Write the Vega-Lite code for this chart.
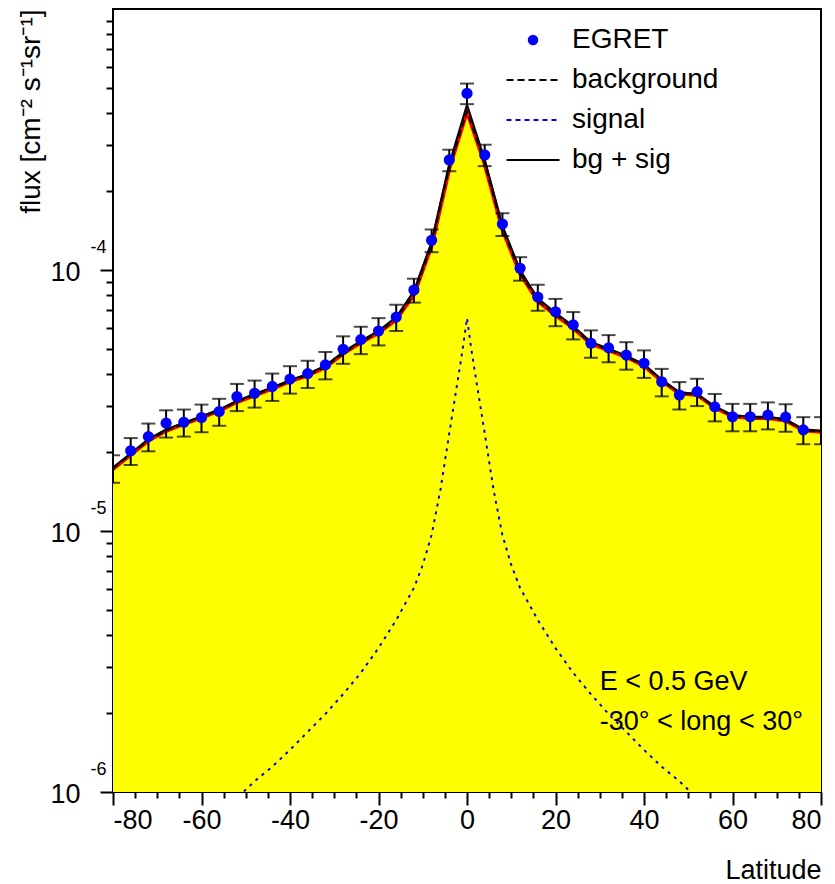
{
  "$schema": "https://vega.github.io/schema/vega-lite/v6.json",
  "width": 708,
  "height": 783,
  "autosize": {"type": "none"},
  "padding": {"left": 113, "top": 9, "right": 14, "bottom": 92},
  "background": "white",
  "config": {
    "font": "Liberation Sans",
    "view": {"stroke": "black", "strokeWidth": 2},
    "axis": {
      "grid": false,
      "domain": false,
      "tickColor": "black",
      "tickWidth": 2,
      "labelColor": "black",
      "titleColor": "black",
      "labelFont": "Liberation Sans",
      "titleFont": "Liberation Sans",
      "labelFontSize": 27,
      "titleFontSize": 27,
      "titleFontWeight": "normal"
    },
    "legend": {
      "title": null,
      "orient": "none",
      "legendX": 406,
      "legendY": 17,
      "padding": 0,
      "offset": 0,
      "symbolSize": 1156,
      "rowPadding": 12,
      "labelOffset": 25,
      "labelFont": "Liberation Sans",
      "labelFontSize": 28,
      "labelColor": "black",
      "labelLimit": 300
    }
  },
  "datasets": {
    "egret": [
      {"lat": -80, "flux": 1.74e-5, "err": 2.1e-6},
      {"lat": -76, "flux": 2.03e-5, "err": 2.4e-6},
      {"lat": -72, "flux": 2.30e-5, "err": 2.8e-6},
      {"lat": -68, "flux": 2.59e-5, "err": 3.1e-6},
      {"lat": -64, "flux": 2.61e-5, "err": 3.1e-6},
      {"lat": -60, "flux": 2.72e-5, "err": 3.3e-6},
      {"lat": -56, "flux": 2.87e-5, "err": 3.4e-6},
      {"lat": -52, "flux": 3.27e-5, "err": 3.9e-6},
      {"lat": -48, "flux": 3.37e-5, "err": 4.0e-6},
      {"lat": -44, "flux": 3.58e-5, "err": 4.3e-6},
      {"lat": -40, "flux": 3.82e-5, "err": 4.6e-6},
      {"lat": -36, "flux": 4.01e-5, "err": 4.8e-6},
      {"lat": -32, "flux": 4.33e-5, "err": 5.2e-6},
      {"lat": -28, "flux": 4.97e-5, "err": 6.0e-6},
      {"lat": -24, "flux": 5.41e-5, "err": 6.5e-6},
      {"lat": -20, "flux": 5.84e-5, "err": 7.0e-6},
      {"lat": -16, "flux": 6.60e-5, "err": 7.6e-6},
      {"lat": -12, "flux": 8.38e-5, "err": 8.8e-6},
      {"lat": -8, "flux": 1.30e-4, "err": 1.3e-5},
      {"lat": -4, "flux": 2.64e-4, "err": 2.5e-5},
      {"lat": 0, "flux": 4.75e-4, "err": 4.3e-5},
      {"lat": 4, "flux": 2.76e-4, "err": 2.6e-5},
      {"lat": 8, "flux": 1.50e-4, "err": 1.5e-5},
      {"lat": 12, "flux": 1.015e-4, "err": 1.05e-5},
      {"lat": 16, "flux": 7.88e-5, "err": 9.0e-6},
      {"lat": 20, "flux": 6.92e-5, "err": 8.3e-6},
      {"lat": 24, "flux": 6.16e-5, "err": 7.4e-6},
      {"lat": 28, "flux": 5.24e-5, "err": 6.3e-6},
      {"lat": 32, "flux": 5.03e-5, "err": 6.0e-6},
      {"lat": 36, "flux": 4.72e-5, "err": 5.7e-6},
      {"lat": 40, "flux": 4.39e-5, "err": 5.3e-6},
      {"lat": 44, "flux": 3.73e-5, "err": 4.5e-6},
      {"lat": 48, "flux": 3.32e-5, "err": 4.0e-6},
      {"lat": 52, "flux": 3.42e-5, "err": 4.1e-6},
      {"lat": 56, "flux": 2.99e-5, "err": 3.6e-6},
      {"lat": 60, "flux": 2.74e-5, "err": 3.3e-6},
      {"lat": 64, "flux": 2.74e-5, "err": 3.3e-6},
      {"lat": 68, "flux": 2.78e-5, "err": 3.3e-6},
      {"lat": 72, "flux": 2.73e-5, "err": 3.3e-6},
      {"lat": 76, "flux": 2.44e-5, "err": 2.9e-6},
      {"lat": 80, "flux": 2.44e-5, "err": 2.9e-6}
    ],
    "model": [
      {"lat": -80, "total": 1.75e-5, "bg": 1.73e-5},
      {"lat": -76, "total": 1.98e-5, "bg": 1.96e-5},
      {"lat": -72, "total": 2.25e-5, "bg": 2.22e-5},
      {"lat": -68, "total": 2.45e-5, "bg": 2.42e-5},
      {"lat": -64, "total": 2.60e-5, "bg": 2.57e-5},
      {"lat": -60, "total": 2.75e-5, "bg": 2.72e-5},
      {"lat": -56, "total": 2.92e-5, "bg": 2.89e-5},
      {"lat": -52, "total": 3.15e-5, "bg": 3.12e-5},
      {"lat": -48, "total": 3.35e-5, "bg": 3.31e-5},
      {"lat": -44, "total": 3.55e-5, "bg": 3.51e-5},
      {"lat": -40, "total": 3.78e-5, "bg": 3.74e-5},
      {"lat": -36, "total": 4.00e-5, "bg": 3.95e-5},
      {"lat": -32, "total": 4.30e-5, "bg": 4.24e-5},
      {"lat": -28, "total": 4.85e-5, "bg": 4.78e-5},
      {"lat": -24, "total": 5.35e-5, "bg": 5.27e-5},
      {"lat": -20, "total": 5.85e-5, "bg": 5.75e-5},
      {"lat": -16, "total": 6.60e-5, "bg": 6.45e-5},
      {"lat": -12, "total": 8.30e-5, "bg": 8.05e-5},
      {"lat": -8, "total": 1.28e-4, "bg": 1.24e-4},
      {"lat": -4, "total": 2.55e-4, "bg": 2.45e-4},
      {"lat": 0, "total": 4.30e-4, "bg": 4.05e-4},
      {"lat": 4, "total": 2.65e-4, "bg": 2.55e-4},
      {"lat": 8, "total": 1.48e-4, "bg": 1.43e-4},
      {"lat": 12, "total": 1.00e-4, "bg": 9.70e-5},
      {"lat": 16, "total": 7.80e-5, "bg": 7.60e-5},
      {"lat": 20, "total": 6.85e-5, "bg": 6.72e-5},
      {"lat": 24, "total": 6.10e-5, "bg": 6.00e-5},
      {"lat": 28, "total": 5.30e-5, "bg": 5.22e-5},
      {"lat": 32, "total": 5.00e-5, "bg": 4.93e-5},
      {"lat": 36, "total": 4.70e-5, "bg": 4.64e-5},
      {"lat": 40, "total": 4.35e-5, "bg": 4.30e-5},
      {"lat": 44, "total": 3.80e-5, "bg": 3.76e-5},
      {"lat": 48, "total": 3.40e-5, "bg": 3.37e-5},
      {"lat": 52, "total": 3.35e-5, "bg": 3.32e-5},
      {"lat": 56, "total": 3.00e-5, "bg": 2.97e-5},
      {"lat": 60, "total": 2.78e-5, "bg": 2.75e-5},
      {"lat": 64, "total": 2.74e-5, "bg": 2.71e-5},
      {"lat": 68, "total": 2.74e-5, "bg": 2.71e-5},
      {"lat": 72, "total": 2.68e-5, "bg": 2.65e-5},
      {"lat": 76, "total": 2.45e-5, "bg": 2.43e-5},
      {"lat": 80, "total": 2.42e-5, "bg": 2.40e-5}
    ],
    "signal": [
      {"lat": -56, "flux": 8.4e-7},
      {"lat": -52, "flux": 9.5e-7},
      {"lat": -50, "flux": 1.02e-6},
      {"lat": -48, "flux": 1.10e-6},
      {"lat": -44, "flux": 1.25e-6},
      {"lat": -40, "flux": 1.45e-6},
      {"lat": -36, "flux": 1.70e-6},
      {"lat": -32, "flux": 1.99e-6},
      {"lat": -28, "flux": 2.37e-6},
      {"lat": -24, "flux": 2.86e-6},
      {"lat": -20, "flux": 3.56e-6},
      {"lat": -16, "flux": 4.56e-6},
      {"lat": -12, "flux": 6.05e-6},
      {"lat": -10, "flux": 7.41e-6},
      {"lat": -8, "flux": 9.65e-6},
      {"lat": -6, "flux": 1.44e-5},
      {"lat": -4, "flux": 2.37e-5},
      {"lat": -2, "flux": 3.86e-5},
      {"lat": -1, "flux": 4.94e-5},
      {"lat": 0, "flux": 6.55e-5},
      {"lat": 1, "flux": 4.94e-5},
      {"lat": 2, "flux": 3.86e-5},
      {"lat": 4, "flux": 2.37e-5},
      {"lat": 6, "flux": 1.44e-5},
      {"lat": 8, "flux": 9.65e-6},
      {"lat": 10, "flux": 7.41e-6},
      {"lat": 12, "flux": 6.05e-6},
      {"lat": 16, "flux": 4.56e-6},
      {"lat": 20, "flux": 3.56e-6},
      {"lat": 24, "flux": 2.86e-6},
      {"lat": 28, "flux": 2.37e-6},
      {"lat": 32, "flux": 1.99e-6},
      {"lat": 36, "flux": 1.70e-6},
      {"lat": 40, "flux": 1.45e-6},
      {"lat": 44, "flux": 1.25e-6},
      {"lat": 48, "flux": 1.10e-6},
      {"lat": 50, "flux": 1.02e-6},
      {"lat": 52, "flux": 9.5e-7},
      {"lat": 56, "flux": 8.4e-7}
    ],
    "notes": [
      {"lat": 30, "flux": 2.46e-6, "text": "E < 0.5 GeV"},
      {"lat": 30, "flux": 1.73e-6, "text": "-30° < long < 30°"}
    ]
  },
  "layer": [
    {
      "data": {"name": "model"},
      "mark": {"type": "area", "color": "#ffff00", "opacity": 1, "clip": true},
      "encoding": {
        "x": {
          "field": "lat", "type": "quantitative",
          "scale": {"domain": [-80, 80], "nice": false, "zero": false},
          "axis": {
            "orient": "bottom",
            "values": [-80, -60, -40, -20, 0, 20, 40, 60, 80],
            "tickSize": 13,
            "labelExpr": "'' + datum.value",
            "labelPadding": 2,
            "labelOverlap": false,
            "title": "Latitude",
            "titleAnchor": "end",
            "titlePadding": 24
          }
        },
        "y": {
          "field": "bg", "type": "quantitative",
          "scale": {"type": "log", "domain": [1e-6, 1e-3], "nice": false},
          "axis": {
            "orient": "left",
            "values": [1e-6, 1e-5, 1e-4],
            "tickSize": 13,
            "labelExpr": "'10'",
            "labelPadding": 20,
            "labelOffset": 2,
            "title": "flux [cm⁻² s⁻¹sr⁻¹]",
            "titleAnchor": "end",
            "titleFontSize": 28,
            "titlePadding": 4
          }
        },
        "y2": {"datum": 1e-6}
      }
    },
    {
      "data": {"name": "model"},
      "mark": {"type": "line", "color": "#ff0000", "strokeWidth": 4, "clip": true},
      "encoding": {
        "x": {
          "field": "lat", "type": "quantitative",
          "scale": {"domain": [-80, 80], "nice": false, "zero": false},
          "axis": {
            "orient": "bottom",
            "values": [-75, -70, -65, -55, -50, -45, -35, -30, -25, -15, -10, -5, 5, 10, 15, 25, 30, 35, 45, 50, 55, 65, 70, 75],
            "tickSize": 6,
            "labels": false,
            "title": null
          }
        },
        "y": {
          "field": "bg", "type": "quantitative",
          "scale": {"type": "log", "domain": [1e-6, 1e-3], "nice": false},
          "axis": {
            "orient": "left",
            "values": [2e-6, 3e-6, 4e-6, 5e-6, 6e-6, 7e-6, 8e-6, 9e-6, 2e-5, 3e-5, 4e-5, 5e-5, 6e-5, 7e-5, 8e-5, 9e-5, 2e-4, 3e-4, 4e-4, 5e-4, 6e-4, 7e-4, 8e-4, 9e-4],
            "tickSize": 7,
            "labels": false,
            "title": null
          }
        }
      }
    },
    {
      "data": {"name": "model"},
      "mark": {"type": "line", "strokeWidth": 1.5, "strokeDash": [7, 4], "clip": true},
      "encoding": {
        "x": {"field": "lat", "type": "quantitative", "scale": {"domain": [-80, 80], "nice": false, "zero": false}, "axis": null},
        "y": {
          "field": "bg", "type": "quantitative",
          "scale": {"type": "log", "domain": [1e-6, 1e-3], "nice": false},
          "axis": {
            "orient": "left",
            "values": [1e-6, 1e-5, 1e-4],
            "ticks": false,
            "tickSize": 0,
            "labelExpr": "'' + round(log(datum.value) / LN10)",
            "labelFontSize": 18,
            "labelPadding": 7,
            "labelOffset": -23,
            "title": null
          }
        },
        "color": {
          "datum": "background", "type": "nominal",
          "scale": {
            "domain": ["EGRET", "background", "signal", "bg + sig"],
            "range": ["#0000ff", "#000000", "#0000ff", "#000000"]
          },
          "legend": {
            "encode": {
              "symbols": {
                "update": {
                  "shape": {"signal": "datum.value === 'EGRET' ? 'circle' : 'stroke'"},
                  "size": {"signal": "datum.value === 'EGRET' ? 110 : 2809"},
                  "strokeWidth": {"signal": "datum.value === 'EGRET' ? 0 : 2"},
                  "strokeDash": {"signal": "datum.value === 'background' ? [7, 4] : (datum.value === 'signal' ? [5, 4] : [1, 0])"},
                  "opacity": {"value": 1}
                }
              }
            }
          }
        }
      }
    },
    {
      "data": {"name": "signal"},
      "mark": {"type": "line", "strokeWidth": 2, "strokeDash": [3, 5], "clip": true},
      "encoding": {
        "x": {"field": "lat", "type": "quantitative", "scale": {"domain": [-80, 80], "nice": false, "zero": false}, "axis": null},
        "y": {"field": "flux", "type": "quantitative", "scale": {"type": "log", "domain": [1e-6, 1e-3], "nice": false}, "axis": null},
        "color": {"datum": "signal", "type": "nominal"}
      }
    },
    {
      "data": {"name": "model"},
      "mark": {"type": "line", "strokeWidth": 2, "clip": true},
      "encoding": {
        "x": {"field": "lat", "type": "quantitative", "scale": {"domain": [-80, 80], "nice": false, "zero": false}, "axis": null},
        "y": {"field": "total", "type": "quantitative", "scale": {"type": "log", "domain": [1e-6, 1e-3], "nice": false}, "axis": null},
        "color": {"datum": "bg + sig", "type": "nominal"}
      }
    },
    {
      "data": {"name": "egret"},
      "mark": {
        "type": "errorbar",
        "color": "black",
        "thickness": 2,
        "rule": {"strokeWidth": 2, "color": "black"},
        "ticks": {"size": 14, "thickness": 2, "color": "black"},
        "clip": true
      },
      "encoding": {
        "x": {"field": "lat", "type": "quantitative", "scale": {"domain": [-80, 80], "nice": false, "zero": false}, "axis": null},
        "y": {"field": "flux", "type": "quantitative", "scale": {"type": "log", "domain": [1e-6, 1e-3], "nice": false}, "axis": null},
        "yError": {"field": "err"}
      }
    },
    {
      "data": {"name": "egret"},
      "transform": [{"filter": "abs(datum.lat) < 80"}],
      "mark": {"type": "point", "filled": true, "size": 125, "opacity": 1, "clip": true},
      "encoding": {
        "x": {"field": "lat", "type": "quantitative", "scale": {"domain": [-80, 80], "nice": false, "zero": false}, "axis": null},
        "y": {"field": "flux", "type": "quantitative", "scale": {"type": "log", "domain": [1e-6, 1e-3], "nice": false}, "axis": null},
        "color": {"datum": "EGRET", "type": "nominal"}
      }
    },
    {
      "data": {"name": "notes"},
      "mark": {"type": "text", "align": "left", "baseline": "alphabetic", "fontSize": 27, "font": "Liberation Sans", "color": "black"},
      "encoding": {
        "x": {"field": "lat", "type": "quantitative", "scale": {"domain": [-80, 80], "nice": false, "zero": false}, "axis": null},
        "y": {"field": "flux", "type": "quantitative", "scale": {"type": "log", "domain": [1e-6, 1e-3], "nice": false}, "axis": null},
        "text": {"field": "text"}
      }
    }
  ],
  "resolve": {"axis": {"x": "independent", "y": "independent"}}
}
